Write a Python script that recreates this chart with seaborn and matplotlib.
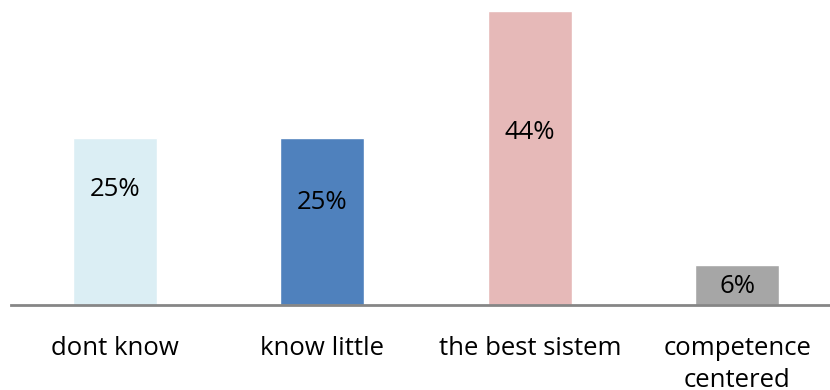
import matplotlib
matplotlib.use("Agg")
import matplotlib.pyplot as plt
import seaborn as sns
import pandas as pd

categories = ["dont know", "know little", "the best sistem", "competence centered"]
tick_labels = ["dont know", "know little", "the best sistem", "competence\ncentered"]
values = [25, 25, 44, 6]
value_labels = ["25%", "25%", "44%", "6%"]
colors = ["#DBEEF4", "#4F81BD", "#E6B9B8", "#A6A6A6"]

sns.set_style("white")
plt.rcParams["font.family"] = ["Open Sans", "DejaVu Sans"]

df = pd.DataFrame({"cat": categories, "val": values})

fig = plt.figure(figsize=(8.3, 3.9), dpi=100)
ax = fig.add_axes([11 / 830, 85 / 390, 830 / 830, 305 / 390])
sns.barplot(data=df, x="cat", y="val", hue="cat", palette=colors,
            width=0.405, legend=False, ax=ax, saturation=1)

ax.set_ylim(0, 45.6)
ax.set_xlim(-0.5, 3.5)
for s in ["top", "right", "left"]:
    ax.spines[s].set_visible(False)
ax.spines["bottom"].set_color("#868686")
ax.spines["bottom"].set_linewidth(2)
ax.set_yticks([])
ax.set_xlabel("")
ax.set_ylabel("")
ax.set_xticks(range(len(tick_labels)))
ax.set_xticklabels(tick_labels, fontsize=18.5, color="black", linespacing=1.4)
ax.tick_params(axis="x", length=0, pad=22)

# label anchor heights inside bars (as fraction of bar height)
label_frac = [0.69, 0.61, 0.585, 0.45]
for i, (v, t) in enumerate(zip(values, value_labels)):
    ax.text(i, v * label_frac[i], t, ha="center", va="center",
            fontsize=18.5, color="black")

fig.savefig("out.png", dpi=100)
